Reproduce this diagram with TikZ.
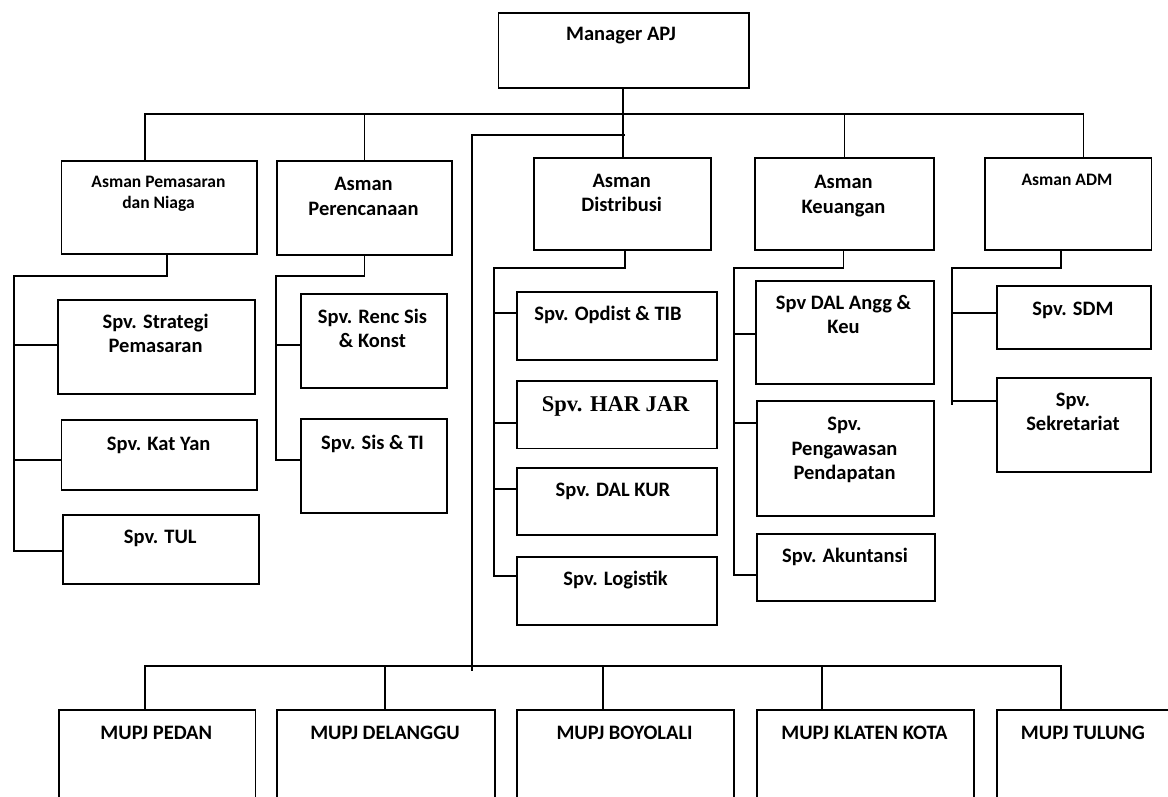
\documentclass[tikz,border=0pt]{standalone}
\usepackage{fontspec}
\setmainfont{Carlito}
\newfontfamily\timesbold{Liberation Serif}
\usetikzlibrary{calc}

% box given by its corners: name, x1, y1, x2, y2 (y grows downward)
\newcommand{\orgbox}[5]{\node[box,anchor=north west,minimum width={#4-#2},minimum height={#5-#3}] (#1) at (#2,#3) {};}

\begin{document}
\begin{tikzpicture}[x=1pt,y=-1pt,
  box/.style={draw,line width=1.9pt,inner sep=0pt},
  wire/.style={line width=1.9pt,line join=miter},
  lbl/.style={anchor=base,align=center,inner sep=0pt,font=\bfseries\fontsize{20.5}{24.5}\selectfont},
  lbls/.style={lbl,font=\bfseries\fontsize{17.5}{21}\selectfont},
  lblserif/.style={lbl,font=\timesbold\bfseries\fontsize{22.5}{26}\selectfont}]
\useasboundingbox (0,0) rectangle (1168,796);
\clip (0,0) rectangle (1168,796);

% ---- boxes ----
\orgbox{mgr}{497.5}{12}{748}{87.3}
\orgbox{pem}{60.5}{160.3}{256.4}{253.3}
\orgbox{ren}{276.3}{160.3}{450.8}{254.3}
\orgbox{dist}{533}{156.7}{710.4}{249.3}
\orgbox{keu}{754}{156.7}{933}{249.3}
\orgbox{adm}{984}{156.7}{1150.5}{249.3}

\orgbox{strat}{57.4}{299}{253.7}{393.3}
\orgbox{kat}{60.5}{419.3}{256.4}{488.7}
\orgbox{tul}{61.6}{514}{258.3}{583.3}

\orgbox{renc}{299.7}{293.3}{445.8}{387.3}
\orgbox{sis}{299.7}{418.3}{445.8}{512.3}

\orgbox{opd}{516}{290.7}{716}{359.3}
\orgbox{har}{516}{380}{716}{447.5}
\orgbox{kur}{516}{467}{716}{534.3}
\orgbox{logi}{516}{555.7}{716}{623.7}

\orgbox{ang}{754.6}{280}{933}{382.7}
\orgbox{pen}{756}{400.3}{933.4}{515}
\orgbox{aku}{756}{533.3}{934}{600}

\orgbox{sdm}{995.8}{285}{1150}{348.3}
\orgbox{sek}{995.8}{376.7}{1150}{471.3}

\orgbox{pedan}{58.2}{709}{254.5}{820}
\orgbox{dlg}{276.3}{709}{493.7}{820}
\orgbox{byl}{515.9}{709}{733.3}{820}
\orgbox{klt}{755.8}{709}{973}{820}
\orgbox{tlg}{996.2}{709}{1172}{820}

% ---- labels (anchored on the baseline of their last line) ----
\node[lbl] (mgr-t) at (621,40) {Manager APJ};
\node[lbls] (pem-t) at (158.5,208.5) {Asman Pemasaran\\dan Niaga};
\node[lbl] (ren-t) at (363.5,215) {Asman\\Perencanaan};
\node[lbl] (dist-t) at (621.7,211.5) {Asman\\Distribusi};
\node[lbl] (keu-t) at (843.5,213) {Asman\\Keuangan};
\node[lbls] (adm-t) at (1067,185.6) {Asman ADM};

\node[lbl] (strat-t) at (155.6,352.5) {Spv. Strategi\\Pemasaran};
\node[lbl] (kat-t) at (158.7,450) {Spv. Kat Yan};
\node[lbl] (tul-t) at (160.3,543) {Spv. TUL};

\node[lbl] (renc-t) at (372.5,347.5) {Spv. Renc Sis\\\& Konst};
\node[lbl] (sis-t) at (372.5,449) {Spv. Sis \& TI};

\node[lbl] (opd-t) at (608,320) {Spv. Opdist \& TIB};
\node[lblserif] (har-t) at (615.7,411.7) {Spv. HAR JAR};
\node[lbl] (kur-t) at (613,496) {Spv. DAL KUR};
\node[lbl] (logi-t) at (615.6,585) {Spv. Logistik};

\node[lbl] (ang-t) at (843.5,333.5) {Spv DAL Angg \&\\Keu};
\node[lbl] (pen-t) at (844.5,479.5) {Spv.\\Pengawasan\\Pendapatan};
\node[lbl] (aku-t) at (845,562.5) {Spv. Akuntansi};

\node[lbl] (sdm-t) at (1073,315.5) {Spv. SDM};
\node[lbl] (sek-t) at (1073,430.5) {Spv.\\Sekretariat};

\node[lbl] (pedan-t) at (156.3,739) {MUPJ PEDAN};
\node[lbl] (dlg-t) at (385,739) {MUPJ DELANGGU};
\node[lbl] (byl-t) at (624.6,739) {MUPJ BOYOLALI};
\node[lbl] (klt-t) at (864.4,739) {MUPJ KLATEN KOTA};
\node[lbl] (tlg-t) at (1083,739) {MUPJ TULUNG};

% ---- top level ----
\coordinate (busL) at (145.4,114.3);
\coordinate (busR) at (1083.5,114.3);
\draw[wire] (busL |- pem.north) -- (busL) -- (busR) -- (busR |- adm.north);
\draw[wire] (ren.north) -- (ren.north |- busL);
\draw[wire] (keu.north) -- (keu.north |- busL);
\draw[wire] (mgr.south -| dist.north) -- (dist.north);

% ---- line down to the MUPJ units ----
\coordinate (dR) at (625,135);
\coordinate (dL) at (472.3,135);
\coordinate (dB) at (472.3,670.7);
\draw[wire] (dR) -- (dL) -- (dB);

\coordinate (m1) at (145.4,665.7);
\coordinate (m2) at (385.4,665.7);
\coordinate (m3) at (603.4,665.7);
\coordinate (m4) at (821.7,665.7);
\coordinate (m5) at (1061.4,665.7);
\draw[wire] (m1 |- pedan.north) -- (m1) -- (m5) -- (m5 |- tlg.north);
\draw[wire] (m2) -- (m2 |- dlg.north);
\draw[wire] (m3) -- (m3 |- byl.north);
\draw[wire] (m4) -- (m4 |- klt.north);

% ---- Pemasaran dan Niaga ----
\coordinate (pA) at (167.2,275.7);
\coordinate (pS) at (14.2,275.7);
\coordinate (p1) at (14.2,344.7);
\coordinate (p2) at (14.2,460);
\coordinate (p3) at (14.2,550.7);
\draw[wire] (pA |- pem.south) -- (pA) -- (pS) -- (p3) -- (p3 -| tul.west);
\draw[wire] (p1) -- (p1 -| strat.west);
\draw[wire] (p2) -- (p2 -| kat.west);

% ---- Perencanaan ----
\coordinate (rS) at (276.3,275.7);
\coordinate (r1) at (276.3,345);
\coordinate (r2) at (276.3,460);
\draw[wire] (ren.south) -- (ren.south |- rS) -- (rS) -- (r2) -- (r2 -| sis.west);
\draw[wire] (r1) -- (r1 -| renc.west);

% ---- Distribusi ----
\coordinate (dA) at (625,267.7);
\coordinate (dS) at (494,267.7);
\coordinate (d1) at (494,313.3);
\coordinate (d2) at (494,423);
\coordinate (d3) at (494,489.3);
\coordinate (d4) at (494,576);
\draw[wire] (dA |- dist.south) -- (dA) -- (dS) -- (d4) -- (d4 -| logi.west);
\draw[wire] (d1) -- (d1 -| opd.west);
\draw[wire] (d2) -- (d2 -| har.west);
\draw[wire] (d3) -- (d3 -| kur.west);

% ---- Keuangan ----
\coordinate (kA) at (843.5,267.7);
\coordinate (kS) at (733.7,267.7);
\coordinate (k1) at (733.7,334);
\coordinate (k2) at (733.7,423);
\coordinate (k3) at (733.7,575);
\draw[wire] (kA |- keu.south) -- (kA) -- (kS) -- (k3) -- (k3 -| aku.west);
\draw[wire] (k1) -- (k1 -| ang.west);
\draw[wire] (k2) -- (k2 -| pen.west);

% ---- ADM ----
\coordinate (aA) at (1061.4,267.7);
\coordinate (aS) at (952.4,267.7);
\coordinate (a1) at (952.4,313.3);
\coordinate (a2) at (952.4,400.7);
\coordinate (aE) at (952.4,405);
\draw[wire] (aA |- adm.south) -- (aA) -- (aS) -- (aE);
\draw[wire] (a1) -- (a1 -| sdm.west);
\draw[wire] (a2) -- (a2 -| sek.west);
\end{tikzpicture}
\end{document}
